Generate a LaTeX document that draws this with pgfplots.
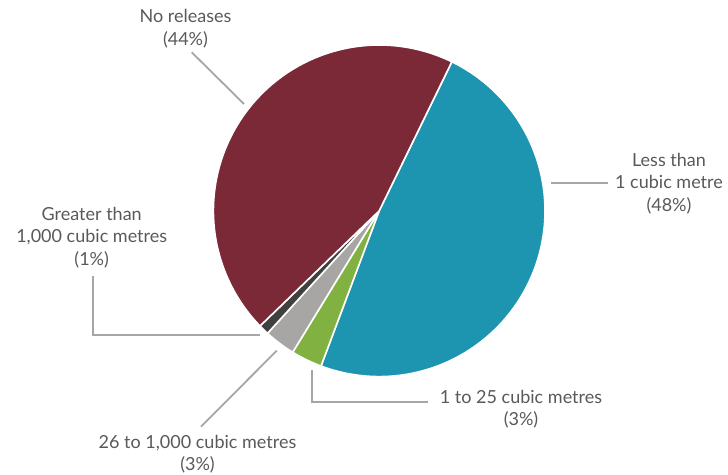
\documentclass[border=0pt]{standalone}
\usepackage{fontspec}
\setmainfont{Lato}
\usepackage{pgfplots}
\usepackage{pgfplotstable}
\pgfplotsset{compat=1.18}

\definecolor{pieMaroon}{RGB}{123,40,55}
\definecolor{pieBlue}{RGB}{30,149,176}
\definecolor{pieGreen}{RGB}{128,177,65}
\definecolor{pieGray}{RGB}{168,165,165}
\definecolor{pieDark}{RGB}{64,64,64}
\definecolor{leaderGray}{RGB}{166,166,166}
\definecolor{labelGray}{RGB}{89,89,89}

% share of spills by released volume (percent), clockwise order
\pgfplotstableread{
share
48
3
3
1
44
}\piedata

\newcommand\pieA[1]{\csname pieA#1\endcsname}

\begin{document}%
\begin{tikzpicture}[x=1pt,y=1pt,
  slice/.style={draw=white, line width=1.6pt, line join=round},
  leader/.style={leaderGray, line width=1.8pt},
  lbl/.style={align=center, text=labelGray, inner sep=0pt,
    font=\fontsize{18}{22.5}\selectfont},
]
% total of the shares
\xdef\pietotal{0}
\foreach \i in {0,...,4}{%
  \pgfplotstablegetelem{\i}{share}\of\piedata
  \pgfmathsetmacro\pieTmp{\pietotal+\pgfplotsretval}%
  \xdef\pietotal{\pieTmp}%
}
% slice boundaries in degrees, going clockwise from the first edge
\expandafter\xdef\csname pieA0\endcsname{64}
\foreach \i in {0,...,4}{%
  \pgfplotstablegetelem{\i}{share}\of\piedata
  \edef\pieCur{\csname pieA\i\endcsname}%
  \pgfmathsetmacro\pieTmp{\pieCur - \pgfplotsretval/\pietotal*360}%
  \pgfmathtruncatemacro\j{\i+1}%
  \expandafter\xdef\csname pieA\j\endcsname{\pieTmp}%
}
\begin{axis}[
  at={(0,0)}, anchor=origin,
  x=1pt, y=1pt,
  xmin=0, xmax=728, ymin=0, ymax=474,
  hide axis, clip=false,
]
% slices
\addplot[slice, fill=pieBlue,   samples=120, variable=\a, domain=\pieA{1}:\pieA{0}] ({379.2+165.8*cos(\a)},{263.2+165.8*sin(\a)}) -- (axis cs:379.2,263.2) -- cycle;
\addplot[slice, fill=pieGreen,  samples=30, variable=\a, domain=\pieA{2}:\pieA{1}] ({379.2+165.8*cos(\a)},{263.2+165.8*sin(\a)}) -- (axis cs:379.2,263.2) -- cycle;
\addplot[slice, fill=pieGray,   samples=30, variable=\a, domain=\pieA{3}:\pieA{2}] ({379.2+165.8*cos(\a)},{263.2+165.8*sin(\a)}) -- (axis cs:379.2,263.2) -- cycle;
\addplot[slice, fill=pieDark,   samples=30, variable=\a, domain=\pieA{4}:\pieA{3}] ({379.2+165.8*cos(\a)},{263.2+165.8*sin(\a)}) -- (axis cs:379.2,263.2) -- cycle;
\addplot[slice, fill=pieMaroon, samples=120, variable=\a, domain=\pieA{5}:\pieA{4}] ({379.2+165.8*cos(\a)},{263.2+165.8*sin(\a)}) -- (axis cs:379.2,263.2) -- cycle;

% leader lines
\addplot[leader, no markers] coordinates {(191.7,421.7) (244,370)};
\addplot[leader, no markers] coordinates {(551,290.7) (608.3,290.7)};
\addplot[leader, no markers] coordinates {(93.3,198) (93.3,139) (260,139)};
\addplot[leader, no markers] coordinates {(312.3,104) (312.3,71.7) (428.3,71.7)};
\addplot[leader, no markers] coordinates {(276.7,123.3) (201,47.3)};

% labels
\node[lbl] at (axis cs:185.5,445.5) {No releases\\(44\%)};
\node[lbl] at (axis cs:669,290.7) {Less than\\1 cubic metre\\(48\%)};
\node[lbl] at (axis cs:91.7,236.5) {Greater than\\1,000 cubic metres\\(1\%)};
\node[lbl] at (axis cs:521,65) {1 to 25 cubic metres\\(3\%)};
\node[lbl] at (axis cs:197.5,20) {26 to 1,000 cubic metres\\(3\%)};
\end{axis}
\pgfresetboundingbox
\useasboundingbox (0,0) rectangle (728,474);
\end{tikzpicture}%
\end{document}
